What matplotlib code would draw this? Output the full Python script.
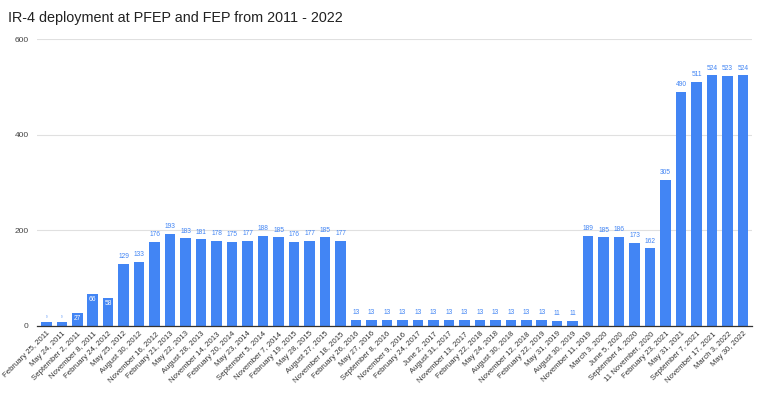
import matplotlib
matplotlib.use("Agg")
import matplotlib.pyplot as plt

dates = [
    "February 25, 2011", "May 24, 2011", "September 2, 2011", "November 8, 2011",
    "February 24, 2012", "May 25, 2012", "August 30, 2012", "November 16, 2012",
    "February 21, 2013", "May 22, 2013", "August 28, 2013", "November 14, 2013",
    "February 20, 2014", "May 23, 2014", "September 5, 2014", "November 7, 2014",
    "February 19, 2015", "May 28, 2015", "August 27, 2015", "November 18, 2015",
    "February 26, 2016", "May 27, 2016", "September 8, 2016", "November 9, 2016",
    "February 24, 2017", "June 2, 2017", "August 31, 2017", "November 13, 2017",
    "February 22, 2018", "May 24, 2018", "August 30, 2018", "November 12, 2018",
    "February 22, 2019", "May 31, 2019", "August 30, 2019", "November 11, 2019",
    "March 3, 2020", "June 5, 2020", "September 4, 2020", "11 November, 2020",
    "February 23, 2021", "May 31, 2021", "September 7, 2021", "November 17, 2021",
    "March 3, 2022", "May 30, 2022",
]
deployed = [
    9, 9, 27, 66, 58, 129, 133, 176, 193, 183, 181, 178, 175, 177, 188, 185,
    176, 177, 185, 177, 13, 13, 13, 13, 13, 13, 13, 13, 13, 13, 13, 13, 13,
    11, 11, 189, 185, 186, 173, 162, 305, 490, 511, 524, 523, 524,
]
y_ticks = [0, 200, 400, 600]

plt.rcParams['font.family'] = ['Liberation Sans', 'DejaVu Sans']
blue = '#4285F4'

fig = plt.figure(figsize=(7.63, 3.96), dpi=100)
ax = fig.add_axes([0.0485, 0.177, 0.9375, 0.7245])

x = range(len(dates))
bars = ax.bar(x, deployed, width=0.68, color=blue, zorder=3)

for i, v in enumerate(deployed):
    if 20 < v < 100:
        # short bars get the label inside in white
        ax.text(i, v - 4, str(v), ha='center', va='top', fontsize=4.8, color='white', zorder=4)
    elif v < 10:
        ax.text(i, v + 6, str(v), ha='center', va='bottom', fontsize=2, color=blue, zorder=4)
    else:
        ax.text(i, v + 8, str(v), ha='center', va='bottom', fontsize=4.8, color=blue, zorder=4)

ax.set_xlim(-0.6, len(dates) - 0.4)
ax.set_ylim(0, 600)
ax.set_yticks(y_ticks)
ax.set_yticklabels([str(t) for t in y_ticks], fontsize=6, color='#444444')
ax.set_xticks(list(x))
ax.set_xticklabels(dates, rotation=45, ha='right', rotation_mode='anchor', fontsize=5.6, color='#333333')
ax.tick_params(axis='both', length=0, pad=3)
ax.tick_params(axis='y', pad=6)
ax.grid(axis='y', color='#e0e0e0', linewidth=0.8, zorder=0)
for s in ['top', 'right', 'left']:
    ax.spines[s].set_visible(False)
ax.spines['bottom'].set_color('#333333')
ax.spines['bottom'].set_linewidth(0.9)
ax.spines['bottom'].set_zorder(5)

fig.text(0.0105, 0.955, "IR-4 deployment at PFEP and FEP from 2011 - 2022", fontsize=10.4,
         color='#222222', va='center', ha='left')

fig.savefig('out.png', dpi=100)
